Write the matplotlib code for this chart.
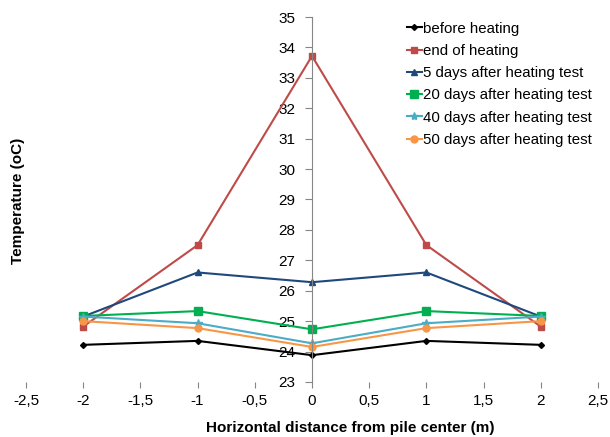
import matplotlib.pyplot as plt

plt.rcParams['font.family'] = ['Liberation Sans', 'DejaVu Sans']

distance = [-2, -1, 0, 1, 2]
before = [24.22, 24.35, 23.88, 24.35, 24.22]
end_heat = [24.82, 27.5, 33.72, 27.5, 24.82]
days5 = [25.15, 26.6, 26.28, 26.6, 25.15]
days20 = [25.17, 25.33, 24.73, 25.33, 25.17]
days40 = [25.15, 24.93, 24.27, 24.93, 25.15]
days50 = [25.0, 24.77, 24.15, 24.77, 25.0]

xticks = [-2.5, -2, -1.5, -1, -0.5, 0, 0.5, 1, 1.5, 2, 2.5]
xticklabels = ['-2,5', '-2', '-1,5', '-1', '-0,5', '0', '0,5', '1', '1,5', '2', '2,5']
yticks = list(range(23, 36))

fig = plt.figure(figsize=(6.1, 4.37), dpi=100)
ax = fig.add_axes([0.0426, 0.126, 0.9377, 0.835])

ax.plot(distance, before, color='black', marker='D', markersize=3, lw=1.5, label='before heating')
ax.plot(distance, end_heat, color='#BE4B48', marker='s', markersize=5, lw=1.5, label='end of heating')
ax.plot(distance, days5, color='#1F497D', marker='^', markersize=5, lw=1.5, label='5 days after heating test')
ax.plot(distance, days20, color='#00B050', marker='s', markersize=6, lw=1.5, label='20 days after heating test')
ax.plot(distance, days40, color='#4BACC6', marker='*', markersize=6, lw=1.5, label='40 days after heating test')
ax.plot(distance, days50, color='#F79646', marker='o', markersize=5, lw=1.5, label='50 days after heating test')

ax.set_xlim(-2.5, 2.5)
ax.set_ylim(23, 35)
ax.set_xticks(xticks)
ax.set_xticklabels(xticklabels)
ax.set_yticks(yticks)

ax.spines['left'].set_position(('data', 0))
ax.spines['left'].set_color('#868686')
for s in ['top', 'right', 'bottom']:
    ax.spines[s].set_visible(False)
ax.tick_params(axis='y', direction='out', length=5, color='#868686', labelsize=11, pad=7)
ax.tick_params(axis='x', direction='out', length=4, color='#868686', labelsize=11, pad=5)

ax.legend(loc='upper left', bbox_to_anchor=(0.655, 1.004), frameon=False, fontsize=10.8,
          handlelength=1.0, handletextpad=0.1, labelspacing=0.55, borderaxespad=0)

fig.text(0.0295, 0.541, 'Temperature (oC)', rotation=90, fontsize=11, fontweight='bold',
         ha='center', va='center')
fig.text(0.575, 0.021, 'Horizontal distance from pile center (m)', fontsize=11,
         fontweight='bold', ha='center', va='center')

plt.savefig('out.png')
